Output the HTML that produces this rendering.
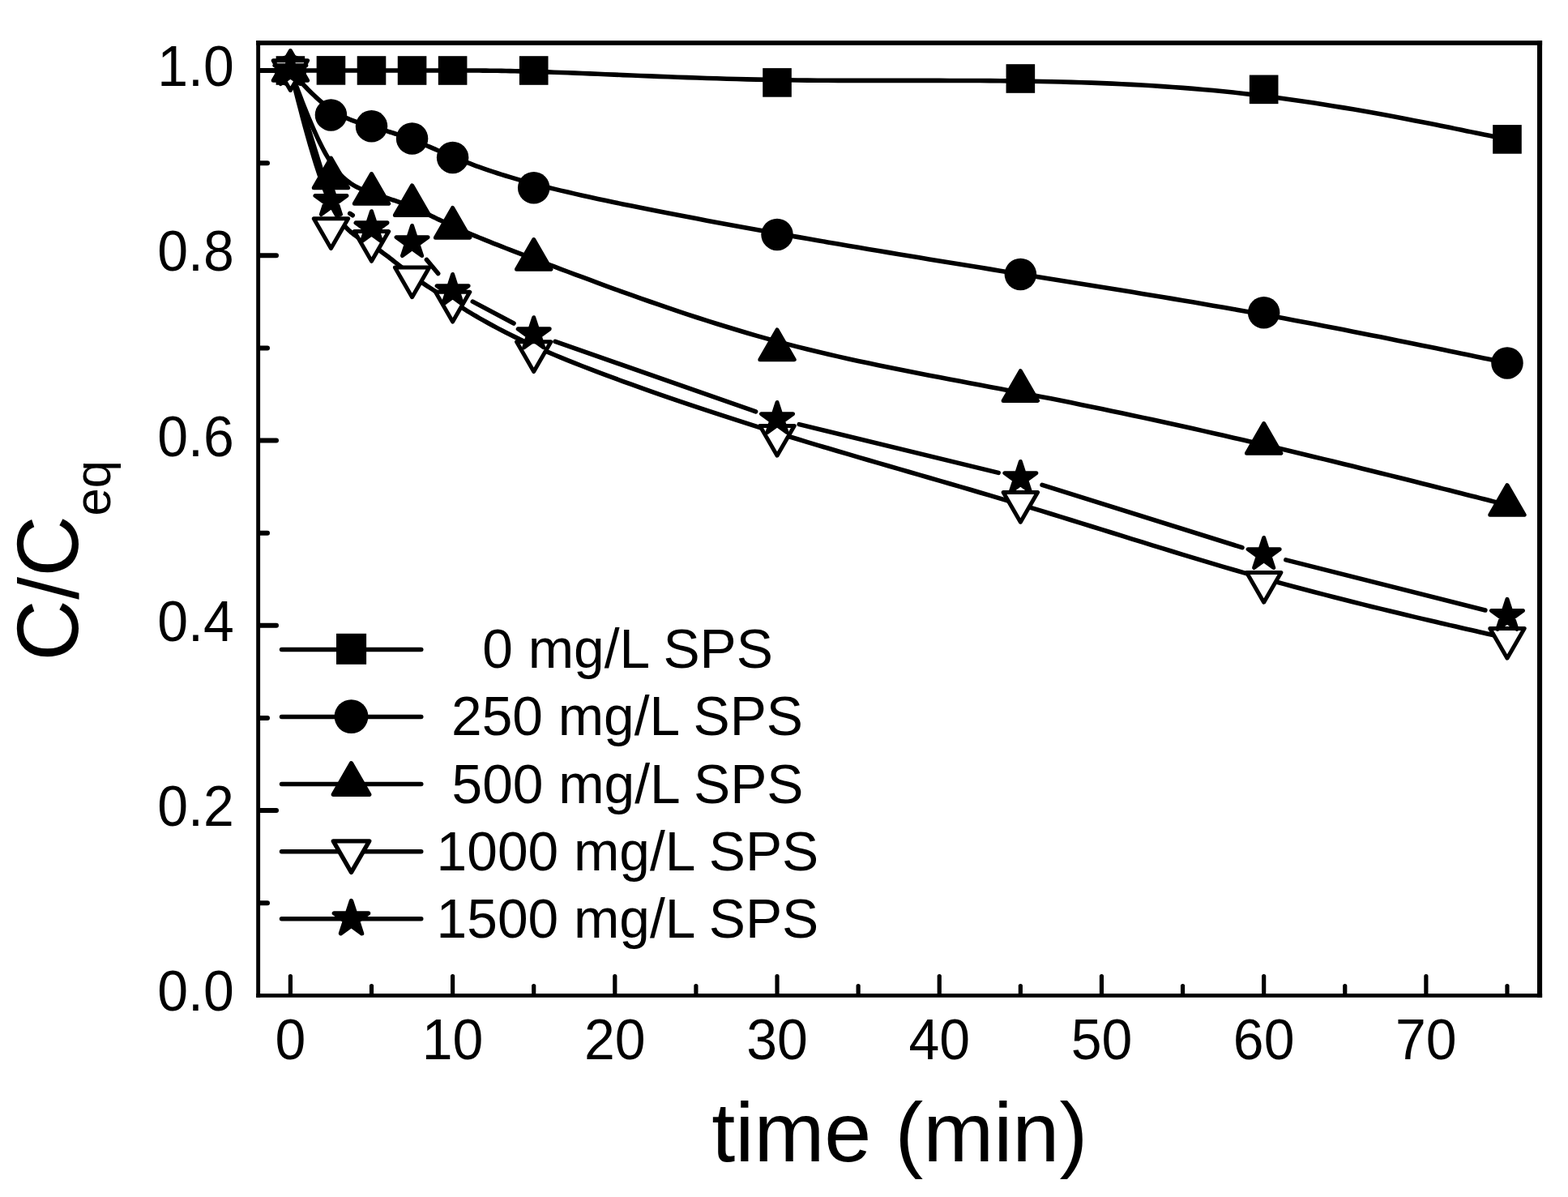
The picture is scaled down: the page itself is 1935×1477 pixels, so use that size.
<!DOCTYPE html>
<html lang="en"><head><meta charset="utf-8"><title>C/Ceq vs time</title>
<style>html,body{margin:0;padding:0;background:#fff}body{width:1935px;height:1477px;overflow:hidden}svg{display:block}text{font-family:"Liberation Sans",Arial,Helvetica,sans-serif;fill:#000}</style>
</head><body>
<svg width="1935" height="1477" viewBox="0 0 1935 1477">
<rect width="1935" height="1477" fill="#fff"/>
<g id="series" stroke="#000" stroke-width="5.6" stroke-linejoin="round" stroke-linecap="round">
<g class="sq">
<path d="M358.4 87 L358.4 87 L358.4 87 L358.42 87 L358.44 87 L358.48 87 L358.53 87 L358.61 87 L358.71 87 L358.84 87 L359 87 L359.2 87 L359.44 87 L359.73 87 L360.06 87 L360.44 87 L360.87 87 L361.36 86.99 L361.92 86.99 L362.54 86.99 L363.23 86.99 L363.99 86.99 L364.83 86.99 L365.74 86.99 L366.74 86.98 L367.83 86.98 L369 86.98 L370.25 86.98 L371.57 86.97 L372.97 86.97 L374.43 86.97 L375.96 86.97 L377.56 86.96 L379.21 86.96 L380.91 86.96 L382.67 86.95 L384.47 86.95 L386.31 86.95 L388.2 86.95 L390.12 86.94 L392.08 86.94 L394.06 86.94 L396.07 86.94 L398.1 86.94 L400.15 86.94 L402.21 86.93 L404.29 86.93 L406.37 86.93 L408.45 86.93 L410.54 86.93 L412.62 86.93 L414.71 86.93 L416.79 86.94 L418.88 86.94 L420.97 86.94 L423.05 86.94 L425.14 86.94 L427.22 86.94 L429.31 86.95 L431.39 86.95 L433.48 86.95 L435.56 86.95 L437.65 86.96 L439.74 86.96 L441.82 86.96 L443.91 86.97 L445.99 86.97 L448.08 86.97 L450.16 86.97 L452.25 86.98 L454.33 86.98 L456.42 86.98 L458.5 86.98 L460.59 86.99 L462.68 86.99 L464.76 86.99 L466.85 86.99 L468.93 86.99 L471.02 86.99 L473.1 86.99 L475.19 87 L477.27 87 L479.36 87 L481.45 87 L483.53 87 L485.62 87 L487.7 87 L489.79 87 L491.87 87 L493.96 87 L496.04 87 L498.13 87 L500.22 87 L502.3 87 L504.39 87 L506.47 87 L508.56 87 L510.64 87 L512.73 87 L514.83 87 L516.94 87 L519.06 87 L521.2 87 L523.36 87 L525.55 87 L527.77 87 L530.02 87 L532.3 87 L534.63 87 L537 87 L539.41 87 L541.88 87 L544.4 87 L546.98 87 L549.62 87 L552.32 87 L555.1 87 L557.94 87 L560.86 87 L563.87 87 L566.95 87 L570.13 87 L573.4 87 L576.78 87 L580.28 87.01 L583.91 87.02 L587.68 87.04 L591.6 87.06 L595.69 87.09 L599.95 87.13 L604.39 87.18 L609.03 87.24 L613.88 87.31 L618.94 87.39 L624.23 87.49 L629.76 87.61 L635.54 87.74 L641.58 87.88 L647.9 88.05 L654.49 88.23 L661.38 88.44 L668.57 88.66 L676.08 88.91 L683.91 89.19 L692.08 89.48 L700.6 89.81 L709.44 90.15 L718.61 90.52 L728.08 90.91 L737.84 91.31 L747.87 91.72 L758.17 92.15 L768.71 92.58 L779.48 93.02 L790.47 93.46 L801.66 93.91 L813.04 94.35 L824.6 94.79 L836.31 95.22 L848.17 95.64 L860.16 96.05 L872.27 96.44 L884.47 96.82 L896.77 97.18 L909.13 97.52 L921.56 97.83 L934.02 98.12 L946.52 98.37 L959.03 98.6 L971.54 98.79 L984.06 98.95 L996.57 99.08 L1009.08 99.19 L1021.6 99.27 L1034.11 99.33 L1046.62 99.37 L1059.13 99.4 L1071.65 99.42 L1084.16 99.42 L1096.67 99.42 L1109.19 99.42 L1121.7 99.41 L1134.21 99.41 L1146.73 99.41 L1159.24 99.41 L1171.75 99.43 L1184.27 99.46 L1196.78 99.5 L1209.29 99.56 L1221.81 99.64 L1234.32 99.75 L1246.83 99.88 L1259.34 100.04 L1271.86 100.23 L1284.37 100.46 L1296.88 100.72 L1309.4 101.02 L1321.91 101.36 L1334.42 101.75 L1346.94 102.17 L1359.45 102.65 L1371.96 103.17 L1384.48 103.75 L1396.99 104.38 L1409.5 105.06 L1422.02 105.8 L1434.53 106.6 L1447.04 107.47 L1459.56 108.39 L1472.07 109.39 L1484.58 110.45 L1497.09 111.58 L1509.61 112.79 L1522.12 114.07 L1534.63 115.43 L1547.15 116.86 L1559.66 118.38 L1572.17 119.98 L1584.66 121.66 L1597.1 123.41 L1609.48 125.21 L1621.77 127.07 L1633.96 128.97 L1646.01 130.9 L1657.91 132.87 L1669.64 134.85 L1681.17 136.85 L1692.49 138.85 L1703.56 140.85 L1714.38 142.83 L1724.91 144.8 L1735.14 146.74 L1745.04 148.64 L1754.59 150.5 L1763.78 152.31 L1772.58 154.06 L1780.96 155.74 L1788.9 157.35 L1796.4 158.87 L1803.41 160.31 L1809.92 161.64 L1815.92 162.87 L1821.42 164 L1826.44 165.03 L1831.01 165.96 L1835.14 166.81 L1838.86 167.57 L1842.19 168.25 L1845.14 168.86 L1847.76 169.4 L1850.04 169.86 L1852.02 170.27 L1853.72 170.62 L1855.16 170.91 L1856.35 171.16 L1857.34 171.36 L1858.12 171.52 L1858.73 171.65 L1859.19 171.74 L1859.52 171.81 L1859.74 171.85 L1859.88 171.88 L1859.95 171.89 L1859.97 171.9 L1859.97 171.9" fill="none" stroke-linecap="butt"/>
<g fill="#000" stroke="none"><rect x="340.6" y="69.2" width="35.6" height="35.6"/><rect x="390.65" y="69.1" width="35.6" height="35.6"/><rect x="440.7" y="69.2" width="35.6" height="35.6"/><rect x="490.76" y="69.2" width="35.6" height="35.6"/><rect x="540.81" y="69.2" width="35.6" height="35.6"/><rect x="640.91" y="69.2" width="35.6" height="35.6"/><rect x="941.23" y="84.1" width="35.6" height="35.6"/><rect x="1241.55" y="79.2" width="35.6" height="35.6"/><rect x="1541.86" y="92.55" width="35.6" height="35.6"/><rect x="1842.17" y="154.1" width="35.6" height="35.6"/></g>
</g>
<g class="ci">
<path d="M358.4 87 L358.4 87 L358.4 87.01 L358.42 87.02 L358.44 87.04 L358.48 87.08 L358.53 87.14 L358.61 87.23 L358.71 87.34 L358.84 87.48 L359 87.66 L359.2 87.88 L359.44 88.14 L359.73 88.45 L360.06 88.82 L360.44 89.23 L360.87 89.71 L361.36 90.25 L361.92 90.86 L362.54 91.54 L363.23 92.3 L363.99 93.13 L364.83 94.05 L365.74 95.05 L366.74 96.15 L367.83 97.34 L369 98.62 L370.25 99.98 L371.57 101.41 L372.97 102.92 L374.43 104.48 L375.96 106.1 L377.56 107.76 L379.21 109.46 L380.91 111.2 L382.67 112.96 L384.47 114.74 L386.31 116.53 L388.2 118.33 L390.12 120.13 L392.08 121.92 L394.06 123.69 L396.07 125.44 L398.1 127.16 L400.15 128.84 L402.21 130.48 L404.29 132.07 L406.37 133.61 L408.45 135.07 L410.54 136.47 L412.62 137.81 L414.71 139.07 L416.79 140.28 L418.88 141.42 L420.97 142.51 L423.05 143.55 L425.14 144.54 L427.22 145.48 L429.31 146.37 L431.39 147.23 L433.48 148.05 L435.56 148.83 L437.65 149.58 L439.74 150.31 L441.82 151.01 L443.91 151.68 L445.99 152.34 L448.08 152.98 L450.16 153.61 L452.25 154.23 L454.33 154.84 L456.42 155.44 L458.5 156.05 L460.59 156.66 L462.68 157.27 L464.76 157.88 L466.85 158.5 L468.93 159.12 L471.02 159.74 L473.1 160.37 L475.19 161.01 L477.27 161.65 L479.36 162.3 L481.45 162.96 L483.53 163.62 L485.62 164.29 L487.7 164.97 L489.79 165.66 L491.87 166.36 L493.96 167.07 L496.04 167.8 L498.13 168.53 L500.22 169.27 L502.3 170.03 L504.39 170.8 L506.47 171.58 L508.56 172.38 L510.64 173.19 L512.73 174.01 L514.83 174.85 L516.94 175.71 L519.06 176.58 L521.2 177.47 L523.36 178.37 L525.55 179.29 L527.77 180.23 L530.02 181.19 L532.3 182.17 L534.63 183.16 L537 184.18 L539.41 185.21 L541.88 186.26 L544.4 187.34 L546.98 188.43 L549.62 189.55 L552.32 190.69 L555.1 191.85 L557.94 193.03 L560.86 194.24 L563.87 195.46 L566.95 196.72 L570.13 197.99 L573.4 199.29 L576.78 200.62 L580.28 201.97 L583.91 203.35 L587.68 204.76 L591.6 206.19 L595.69 207.65 L599.95 209.13 L604.39 210.65 L609.03 212.19 L613.88 213.76 L618.94 215.37 L624.23 217 L629.76 218.66 L635.54 220.36 L641.58 222.09 L647.9 223.85 L654.49 225.64 L661.38 227.46 L668.57 229.32 L676.08 231.21 L683.91 233.14 L692.08 235.1 L700.6 237.1 L709.44 239.13 L718.61 241.19 L728.08 243.28 L737.84 245.39 L747.87 247.54 L758.17 249.7 L768.71 251.89 L779.48 254.09 L790.47 256.31 L801.66 258.55 L813.04 260.79 L824.6 263.05 L836.31 265.32 L848.17 267.59 L860.16 269.87 L872.27 272.14 L884.47 274.42 L896.77 276.69 L909.13 278.96 L921.56 281.23 L934.02 283.48 L946.52 285.73 L959.03 287.96 L971.54 290.17 L984.06 292.38 L996.57 294.56 L1009.08 296.74 L1021.6 298.9 L1034.11 301.05 L1046.62 303.19 L1059.13 305.31 L1071.65 307.43 L1084.16 309.53 L1096.67 311.62 L1109.19 313.71 L1121.7 315.78 L1134.21 317.85 L1146.73 319.91 L1159.24 321.96 L1171.75 324.01 L1184.27 326.05 L1196.78 328.08 L1209.29 330.1 L1221.81 332.13 L1234.32 334.14 L1246.83 336.16 L1259.34 338.17 L1271.86 340.17 L1284.37 342.18 L1296.88 344.18 L1309.4 346.19 L1321.91 348.2 L1334.42 350.21 L1346.94 352.22 L1359.45 354.24 L1371.96 356.27 L1384.48 358.3 L1396.99 360.34 L1409.5 362.4 L1422.02 364.46 L1434.53 366.54 L1447.04 368.63 L1459.56 370.73 L1472.07 372.86 L1484.58 375 L1497.09 377.15 L1509.61 379.33 L1522.12 381.53 L1534.63 383.75 L1547.15 385.99 L1559.66 388.26 L1572.17 390.55 L1584.66 392.86 L1597.1 395.19 L1609.48 397.52 L1621.77 399.86 L1633.96 402.2 L1646.01 404.53 L1657.91 406.85 L1669.64 409.14 L1681.17 411.41 L1692.49 413.66 L1703.56 415.86 L1714.38 418.03 L1724.91 420.15 L1735.14 422.22 L1745.04 424.22 L1754.59 426.17 L1763.78 428.05 L1772.58 429.85 L1780.96 431.57 L1788.9 433.21 L1796.4 434.75 L1803.41 436.2 L1809.92 437.55 L1815.92 438.79 L1821.42 439.93 L1826.44 440.97 L1831.01 441.91 L1835.14 442.76 L1838.86 443.53 L1842.19 444.22 L1845.14 444.83 L1847.76 445.37 L1850.04 445.85 L1852.02 446.26 L1853.72 446.61 L1855.16 446.9 L1856.35 447.15 L1857.34 447.35 L1858.12 447.52 L1858.73 447.64 L1859.19 447.74 L1859.52 447.81 L1859.74 447.85 L1859.88 447.88 L1859.95 447.89 L1859.97 447.9 L1859.97 447.9" fill="none" stroke-linecap="butt"/>
<g fill="#000" stroke="none"><circle cx="358.4" cy="87" r="19.75"/><circle cx="408.45" cy="141.9" r="19.75"/><circle cx="458.5" cy="155.85" r="19.75"/><circle cx="508.56" cy="171" r="19.75"/><circle cx="558.61" cy="194.4" r="19.75"/><circle cx="658.71" cy="231.7" r="19.75"/><circle cx="959.03" cy="289.4" r="19.75"/><circle cx="1259.35" cy="338.45" r="19.75"/><circle cx="1559.66" cy="385.8" r="19.75"/><circle cx="1859.97" cy="447.9" r="19.75"/></g>
</g>
<g class="up">
<path d="M358.4 87 L358.4 87 L358.4 87.01 L358.42 87.04 L358.44 87.1 L358.48 87.2 L358.53 87.35 L358.61 87.55 L358.71 87.82 L358.84 88.16 L359 88.6 L359.2 89.13 L359.44 89.76 L359.73 90.51 L360.06 91.38 L360.44 92.39 L360.87 93.54 L361.36 94.85 L361.92 96.32 L362.54 97.96 L363.23 99.78 L363.99 101.79 L364.83 104.01 L365.74 106.44 L366.74 109.08 L367.83 111.96 L369 115.04 L370.25 118.32 L371.57 121.78 L372.97 125.39 L374.43 129.15 L375.96 133.03 L377.56 137.01 L379.21 141.09 L380.91 145.23 L382.67 149.43 L384.47 153.66 L386.31 157.9 L388.2 162.15 L390.12 166.38 L392.08 170.57 L394.06 174.71 L396.07 178.77 L398.1 182.75 L400.15 186.62 L402.21 190.36 L404.29 193.96 L406.37 197.4 L408.45 200.67 L410.54 203.74 L412.62 206.62 L414.71 209.32 L416.79 211.85 L418.88 214.21 L420.97 216.42 L423.05 218.47 L425.14 220.39 L427.22 222.17 L429.31 223.82 L431.39 225.36 L433.48 226.79 L435.56 228.11 L437.65 229.34 L439.74 230.48 L441.82 231.55 L443.91 232.54 L445.99 233.47 L448.08 234.34 L450.16 235.16 L452.25 235.95 L454.33 236.7 L456.42 237.42 L458.5 238.13 L460.59 238.83 L462.68 239.53 L464.76 240.21 L466.85 240.89 L468.93 241.57 L471.02 242.24 L473.1 242.92 L475.19 243.59 L477.27 244.27 L479.36 244.95 L481.45 245.63 L483.53 246.32 L485.62 247.01 L487.7 247.72 L489.79 248.43 L491.87 249.16 L493.96 249.9 L496.04 250.65 L498.13 251.41 L500.22 252.2 L502.3 253 L504.39 253.82 L506.47 254.66 L508.56 255.52 L510.64 256.4 L512.73 257.31 L514.83 258.24 L516.94 259.19 L519.06 260.17 L521.2 261.17 L523.36 262.19 L525.55 263.23 L527.77 264.29 L530.02 265.38 L532.3 266.49 L534.63 267.62 L537 268.77 L539.41 269.94 L541.88 271.13 L544.4 272.35 L546.98 273.59 L549.62 274.84 L552.32 276.12 L555.1 277.42 L557.94 278.74 L560.86 280.08 L563.87 281.44 L566.95 282.82 L570.13 284.22 L573.4 285.64 L576.78 287.1 L580.28 288.58 L583.91 290.11 L587.68 291.67 L591.6 293.28 L595.69 294.95 L599.95 296.67 L604.39 298.44 L609.03 300.29 L613.88 302.2 L618.94 304.18 L624.23 306.24 L629.76 308.38 L635.54 310.61 L641.58 312.93 L647.9 315.34 L654.49 317.85 L661.38 320.47 L668.57 323.19 L676.08 326.02 L683.91 328.98 L692.08 332.05 L700.6 335.25 L709.44 338.56 L718.61 341.98 L728.08 345.49 L737.84 349.1 L747.87 352.78 L758.17 356.52 L768.71 360.33 L779.48 364.18 L790.47 368.08 L801.66 372 L813.04 375.94 L824.6 379.9 L836.31 383.85 L848.17 387.79 L860.16 391.72 L872.27 395.62 L884.47 399.48 L896.77 403.29 L909.13 407.04 L921.56 410.73 L934.02 414.34 L946.52 417.87 L959.03 421.3 L971.54 424.63 L984.06 427.86 L996.57 430.99 L1009.08 434.03 L1021.6 436.99 L1034.11 439.88 L1046.62 442.69 L1059.13 445.43 L1071.65 448.11 L1084.16 450.73 L1096.67 453.3 L1109.19 455.83 L1121.7 458.32 L1134.21 460.77 L1146.73 463.19 L1159.24 465.58 L1171.75 467.96 L1184.27 470.33 L1196.78 472.68 L1209.29 475.04 L1221.81 477.39 L1234.32 479.76 L1246.83 482.14 L1259.34 484.53 L1271.86 486.95 L1284.37 489.4 L1296.88 491.87 L1309.4 494.36 L1321.91 496.87 L1334.42 499.41 L1346.94 501.98 L1359.45 504.56 L1371.96 507.17 L1384.48 509.8 L1396.99 512.45 L1409.5 515.13 L1422.02 517.82 L1434.53 520.54 L1447.04 523.28 L1459.56 526.04 L1472.07 528.83 L1484.58 531.63 L1497.09 534.46 L1509.61 537.3 L1522.12 540.17 L1534.63 543.05 L1547.15 545.96 L1559.66 548.88 L1572.17 551.83 L1584.66 554.78 L1597.1 557.75 L1609.48 560.71 L1621.77 563.67 L1633.96 566.62 L1646.01 569.55 L1657.91 572.45 L1669.64 575.33 L1681.17 578.16 L1692.49 580.96 L1703.56 583.7 L1714.38 586.39 L1724.91 589.01 L1735.14 591.57 L1745.04 594.05 L1754.59 596.44 L1763.78 598.75 L1772.58 600.97 L1780.96 603.09 L1788.9 605.09 L1796.4 606.99 L1803.41 608.77 L1809.92 610.42 L1815.92 611.94 L1821.42 613.33 L1826.44 614.6 L1831.01 615.76 L1835.14 616.81 L1838.86 617.75 L1842.19 618.59 L1845.14 619.34 L1847.76 620 L1850.04 620.58 L1852.02 621.08 L1853.72 621.51 L1855.16 621.88 L1856.35 622.18 L1857.34 622.43 L1858.12 622.63 L1858.73 622.79 L1859.19 622.9 L1859.52 622.99 L1859.74 623.04 L1859.88 623.08 L1859.95 623.09 L1859.97 623.1 L1859.97 623.1" fill="none" stroke-linecap="butt"/>
<g fill="#000" stroke-width="5"><polygon points="358.4,62.52 379.6,99.24 337.2,99.24"/><polygon points="408.45,195.02 429.65,231.74 387.25,231.74"/><polygon points="458.5,214.52 479.7,251.24 437.31,251.24"/><polygon points="508.56,228.82 529.76,265.54 487.36,265.54"/><polygon points="558.61,256.42 579.81,293.14 537.41,293.14"/><polygon points="658.71,295.52 679.91,332.24 637.51,332.24"/><polygon points="959.03,406.92 980.23,443.64 937.83,443.64"/><polygon points="1259.35,457.72 1280.55,494.44 1238.14,494.44"/><polygon points="1559.66,522.52 1580.86,559.24 1538.46,559.24"/><polygon points="1859.97,598.62 1881.17,635.34 1838.77,635.34"/></g>
</g>
<g class="dn">
<path d="M358.4 87 L358.4 87 L358.4 87.02 L358.42 87.06 L358.44 87.15 L358.48 87.29 L358.53 87.51 L358.61 87.81 L358.71 88.2 L358.84 88.71 L359 89.35 L359.2 90.13 L359.44 91.06 L359.73 92.17 L360.06 93.45 L360.44 94.93 L360.87 96.63 L361.36 98.55 L361.92 100.71 L362.54 103.13 L363.23 105.81 L363.99 108.77 L364.83 112.03 L365.74 115.6 L366.74 119.5 L367.83 123.73 L369 128.27 L370.25 133.09 L371.57 138.17 L372.97 143.48 L374.43 148.99 L375.96 154.68 L377.56 160.52 L379.21 166.48 L380.91 172.54 L382.67 178.66 L384.47 184.83 L386.31 191.01 L388.2 197.17 L390.12 203.3 L392.08 209.35 L394.06 215.32 L396.07 221.16 L398.1 226.85 L400.15 232.37 L402.21 237.68 L404.29 242.76 L406.37 247.59 L408.45 252.13 L410.54 256.37 L412.62 260.31 L414.71 263.98 L416.79 267.37 L418.88 270.52 L420.97 273.42 L423.05 276.11 L425.14 278.59 L427.22 280.88 L429.31 283 L431.39 284.95 L433.48 286.76 L435.56 288.44 L437.65 290 L439.74 291.46 L441.82 292.84 L443.91 294.14 L445.99 295.39 L448.08 296.6 L450.16 297.79 L452.25 298.96 L454.33 300.14 L456.42 301.33 L458.5 302.57 L460.59 303.85 L462.68 305.17 L464.76 306.54 L466.85 307.95 L468.93 309.39 L471.02 310.87 L473.1 312.39 L475.19 313.93 L477.27 315.49 L479.36 317.08 L481.45 318.68 L483.53 320.3 L485.62 321.94 L487.7 323.58 L489.79 325.23 L491.87 326.89 L493.96 328.54 L496.04 330.19 L498.13 331.84 L500.22 333.47 L502.3 335.1 L504.39 336.71 L506.47 338.3 L508.56 339.87 L510.64 341.41 L512.73 342.94 L514.83 344.45 L516.94 345.94 L519.06 347.42 L521.2 348.9 L523.36 350.37 L525.55 351.83 L527.77 353.3 L530.02 354.78 L532.3 356.26 L534.63 357.76 L537 359.27 L539.41 360.79 L541.88 362.34 L544.4 363.92 L546.98 365.52 L549.62 367.15 L552.32 368.82 L555.1 370.52 L557.94 372.27 L560.86 374.06 L563.87 375.9 L566.95 377.78 L570.13 379.73 L573.4 381.72 L576.78 383.77 L580.28 385.88 L583.91 388.05 L587.68 390.27 L591.6 392.55 L595.69 394.9 L599.95 397.3 L604.39 399.76 L609.03 402.29 L613.88 404.88 L618.94 407.53 L624.23 410.24 L629.76 413.02 L635.54 415.87 L641.58 418.78 L647.9 421.77 L654.49 424.82 L661.38 427.93 L668.57 431.12 L676.08 434.38 L683.91 437.71 L692.08 441.12 L700.6 444.59 L709.44 448.14 L718.61 451.74 L728.08 455.41 L737.84 459.13 L747.87 462.9 L758.17 466.72 L768.71 470.58 L779.48 474.47 L790.47 478.4 L801.66 482.35 L813.04 486.33 L824.6 490.32 L836.31 494.33 L848.17 498.34 L860.16 502.36 L872.27 506.38 L884.47 510.39 L896.77 514.4 L909.13 518.39 L921.56 522.36 L934.02 526.3 L946.52 530.22 L959.03 534.11 L971.54 537.96 L984.06 541.77 L996.57 545.56 L1009.08 549.31 L1021.6 553.04 L1034.11 556.74 L1046.62 560.42 L1059.13 564.09 L1071.65 567.74 L1084.16 571.38 L1096.67 575.01 L1109.19 578.63 L1121.7 582.25 L1134.21 585.86 L1146.73 589.48 L1159.24 593.1 L1171.75 596.73 L1184.27 600.37 L1196.78 604.02 L1209.29 607.69 L1221.81 611.37 L1234.32 615.08 L1246.83 618.81 L1259.34 622.57 L1271.86 626.35 L1284.37 630.16 L1296.88 634 L1309.4 637.85 L1321.91 641.72 L1334.42 645.6 L1346.94 649.49 L1359.45 653.38 L1371.96 657.28 L1384.48 661.18 L1396.99 665.07 L1409.5 668.95 L1422.02 672.83 L1434.53 676.68 L1447.04 680.52 L1459.56 684.34 L1472.07 688.14 L1484.58 691.9 L1497.09 695.63 L1509.61 699.33 L1522.12 702.99 L1534.63 706.61 L1547.15 710.18 L1559.66 713.71 L1572.17 717.18 L1584.66 720.6 L1597.1 723.96 L1609.48 727.26 L1621.77 730.49 L1633.96 733.66 L1646.01 736.77 L1657.91 739.8 L1669.64 742.75 L1681.17 745.63 L1692.49 748.42 L1703.56 751.14 L1714.38 753.77 L1724.91 756.31 L1735.14 758.75 L1745.04 761.11 L1754.59 763.36 L1763.78 765.52 L1772.58 767.57 L1780.96 769.52 L1788.9 771.36 L1796.4 773.09 L1803.41 774.7 L1809.92 776.2 L1815.92 777.58 L1821.42 778.84 L1826.44 780 L1831.01 781.04 L1835.14 781.99 L1838.86 782.85 L1842.19 783.61 L1845.14 784.29 L1847.76 784.89 L1850.04 785.42 L1852.02 785.87 L1853.72 786.26 L1855.16 786.59 L1856.35 786.87 L1857.34 787.09 L1858.12 787.27 L1858.73 787.41 L1859.19 787.52 L1859.52 787.6 L1859.74 787.65 L1859.88 787.68 L1859.95 787.69 L1859.97 787.7 L1859.97 787.7" fill="none" stroke-linecap="butt"/>
<g fill="#fff" stroke-width="5"><polygon points="358.4,111.48 379.6,74.76 337.2,74.76"/><polygon points="408.45,306.48 429.65,269.76 387.25,269.76"/><polygon points="458.5,322.28 479.7,285.56 437.31,285.56"/><polygon points="508.56,366.68 529.76,329.96 487.36,329.96"/><polygon points="558.61,397.08 579.81,360.36 537.41,360.36"/><polygon points="658.71,458.58 679.91,421.86 637.51,421.86"/><polygon points="959.03,562.18 980.23,525.46 937.83,525.46"/><polygon points="1259.35,644.23 1280.55,607.51 1238.14,607.51"/><polygon points="1559.66,743.18 1580.86,706.46 1538.46,706.46"/><polygon points="1859.97,812.18 1881.17,775.46 1838.77,775.46"/></g>
</g>
<g class="st">
<path d="M366.72 113.74 L400.14 221.16 M431.76 263.41 L435.19 265.69 M526.49 320.5 L540.67 337.5 M583.34 372.14 L633.99 399.06 M685.15 421.43 L932.59 507.77 M986.24 523.61 L1232.14 583.39 M1286.07 598.36 L1532.94 675.64 M1586.81 690.85 L1832.83 752.95" fill="none"/>
<g fill="#000" stroke-width="5"><polygon points="358.4,66.5 363,80.67 377.9,80.67 365.85,89.42 370.45,103.58 358.4,94.83 346.35,103.58 350.95,89.42 338.9,80.67 353.8,80.67"/><polygon points="408.45,227.4 413.06,241.57 427.95,241.57 415.9,250.32 420.5,264.48 408.45,255.73 396.4,264.48 401.01,250.32 388.96,241.57 403.85,241.57"/><polygon points="458.5,260.7 463.11,274.87 478,274.87 465.95,283.62 470.55,297.78 458.5,289.03 446.46,297.78 451.06,283.62 439.01,274.87 453.9,274.87"/><polygon points="508.56,278.5 513.16,292.67 528.05,292.67 516,301.42 520.61,315.58 508.56,306.83 496.51,315.58 501.11,301.42 489.06,292.67 503.95,292.67"/><polygon points="558.61,338.5 563.21,352.67 578.11,352.67 566.06,361.42 570.66,375.58 558.61,366.83 546.56,375.58 551.16,361.42 539.11,352.67 554.01,352.67"/><polygon points="658.71,391.7 663.32,405.87 678.21,405.87 666.16,414.62 670.76,428.78 658.71,420.03 646.67,428.78 651.27,414.62 639.22,405.87 654.11,405.87"/><polygon points="959.03,496.5 963.63,510.67 978.53,510.67 966.48,519.42 971.08,533.58 959.03,524.83 946.98,533.58 951.58,519.42 939.53,510.67 954.43,510.67"/><polygon points="1259.35,569.5 1263.95,583.67 1278.84,583.67 1266.79,592.42 1271.39,606.58 1259.35,597.83 1247.3,606.58 1251.9,592.42 1239.85,583.67 1254.74,583.67"/><polygon points="1559.66,663.5 1564.26,677.67 1579.16,677.67 1567.11,686.42 1571.71,700.58 1559.66,691.83 1547.61,700.58 1552.21,686.42 1540.16,677.67 1555.06,677.67"/><polygon points="1859.97,739.3 1864.58,753.47 1879.47,753.47 1867.42,762.22 1872.02,776.38 1859.97,767.63 1847.93,776.38 1852.53,762.22 1840.48,753.47 1855.37,753.47"/></g>
</g>
</g>
<g id="frame" fill="#000">
<rect x="316.2" y="50.1" width="4.9" height="1180.7"/>
<rect x="1897" y="50.1" width="6.1" height="1180.7"/>
<rect x="316.2" y="50.1" width="1586.9" height="5.7"/>
<rect x="316.2" y="1226" width="1586.9" height="4.8"/>
</g>
<g id="ticks" stroke="#000" stroke-width="5.2" stroke-linecap="round">
<line x1="358.4" y1="1227.5" x2="358.4" y2="1204.6"/>
<line x1="458.5" y1="1227.5" x2="458.5" y2="1216.6"/>
<line x1="558.61" y1="1227.5" x2="558.61" y2="1204.6"/>
<line x1="658.71" y1="1227.5" x2="658.71" y2="1216.6"/>
<line x1="758.82" y1="1227.5" x2="758.82" y2="1204.6"/>
<line x1="858.92" y1="1227.5" x2="858.92" y2="1216.6"/>
<line x1="959.03" y1="1227.5" x2="959.03" y2="1204.6"/>
<line x1="1059.13" y1="1227.5" x2="1059.13" y2="1216.6"/>
<line x1="1159.24" y1="1227.5" x2="1159.24" y2="1204.6"/>
<line x1="1259.35" y1="1227.5" x2="1259.35" y2="1216.6"/>
<line x1="1359.45" y1="1227.5" x2="1359.45" y2="1204.6"/>
<line x1="1459.55" y1="1227.5" x2="1459.55" y2="1216.6"/>
<line x1="1559.66" y1="1227.5" x2="1559.66" y2="1204.6"/>
<line x1="1659.76" y1="1227.5" x2="1659.76" y2="1216.6"/>
<line x1="1759.87" y1="1227.5" x2="1759.87" y2="1204.6"/>
<line x1="1859.97" y1="1227.5" x2="1859.97" y2="1216.6"/>
<line x1="321.1" y1="1114.26" x2="330" y2="1114.26" stroke-width="6"/>
<line x1="321.1" y1="1000.12" x2="341" y2="1000.12" stroke-width="6"/>
<line x1="321.1" y1="885.98" x2="330" y2="885.98" stroke-width="6"/>
<line x1="321.1" y1="771.84" x2="341" y2="771.84" stroke-width="6"/>
<line x1="321.1" y1="657.7" x2="330" y2="657.7" stroke-width="6"/>
<line x1="321.1" y1="543.56" x2="341" y2="543.56" stroke-width="6"/>
<line x1="321.1" y1="429.42" x2="330" y2="429.42" stroke-width="6"/>
<line x1="321.1" y1="315.28" x2="341" y2="315.28" stroke-width="6"/>
<line x1="321.1" y1="201.14" x2="330" y2="201.14" stroke-width="6"/>
<line x1="321.1" y1="87" x2="341" y2="87" stroke-width="6"/>
</g>
<g id="ticklabels" font-size="68">
<text transform="translate(358.4 1307.2) scale(1 1.045)" text-anchor="middle">0</text>
<text transform="translate(558.61 1307.2) scale(1 1.045)" text-anchor="middle">10</text>
<text transform="translate(758.82 1307.2) scale(1 1.045)" text-anchor="middle">20</text>
<text transform="translate(959.03 1307.2) scale(1 1.045)" text-anchor="middle">30</text>
<text transform="translate(1159.24 1307.2) scale(1 1.045)" text-anchor="middle">40</text>
<text transform="translate(1359.45 1307.2) scale(1 1.045)" text-anchor="middle">50</text>
<text transform="translate(1559.66 1307.2) scale(1 1.045)" text-anchor="middle">60</text>
<text transform="translate(1759.87 1307.2) scale(1 1.045)" text-anchor="middle">70</text>
<text transform="translate(288.7 1247.4) scale(1 1.045)" text-anchor="end">0.0</text>
<text transform="translate(288.7 1019.12) scale(1 1.045)" text-anchor="end">0.2</text>
<text transform="translate(288.7 790.84) scale(1 1.045)" text-anchor="end">0.4</text>
<text transform="translate(288.7 562.56) scale(1 1.045)" text-anchor="end">0.6</text>
<text transform="translate(288.7 334.28) scale(1 1.045)" text-anchor="end">0.8</text>
<text transform="translate(288.7 106) scale(1 1.045)" text-anchor="end">1.0</text>
</g>
<text id="xtitle" x="1110.2" y="1433" font-size="104.4" text-anchor="middle">time (min)</text>
<text id="ytitle" transform="translate(95.8 815.5) rotate(-90) scale(1 1.03)" font-size="104">C<tspan font-size="100" dx="0.55">/</tspan><tspan dx="0.55">C</tspan><tspan font-size="61.5" dy="39">eq</tspan></text>
<g id="legend" stroke="#000" stroke-width="5.4" stroke-linejoin="round" stroke-linecap="round">
<line x1="347.5" y1="801.5" x2="519.8" y2="801.5"/>
<g fill="#000" stroke="none"><rect x="415" y="781.8" width="37.1" height="38"/></g>
<line x1="347.5" y1="884.5" x2="519.8" y2="884.5"/>
<g fill="#000" stroke="none"><circle cx="433.5" cy="884.1" r="20.9"/></g>
<line x1="347.5" y1="967.5" x2="519.8" y2="967.5"/>
<g fill="#000"><polygon points="433.5,941.87 455.7,980.32 411.3,980.32"/></g>
<line x1="347.5" y1="1050.7" x2="519.8" y2="1050.7"/>
<g fill="#fff"><polygon points="433.5,1076.33 455.7,1037.88 411.3,1037.88"/></g>
<line x1="347.5" y1="1133.8" x2="519.8" y2="1133.8"/>
<g fill="#000"><polygon points="433.5,1111.6 438.48,1126.94 454.61,1126.94 441.56,1136.42 446.55,1151.76 433.5,1142.28 420.45,1151.76 425.44,1136.42 412.39,1126.94 428.52,1126.94"/></g>
</g>
<g id="legendtext" font-size="67.7">
<text x="595.2" y="824.1">0 mg/L SPS</text>
<text x="557" y="907.3">250 mg/L SPS</text>
<text x="557.5" y="990.7">500 mg/L SPS</text>
<text x="538.6" y="1074.1">1000 mg/L SPS</text>
<text x="538.6" y="1156.9">1500 mg/L SPS</text>
</g>
</svg>
</body></html>
